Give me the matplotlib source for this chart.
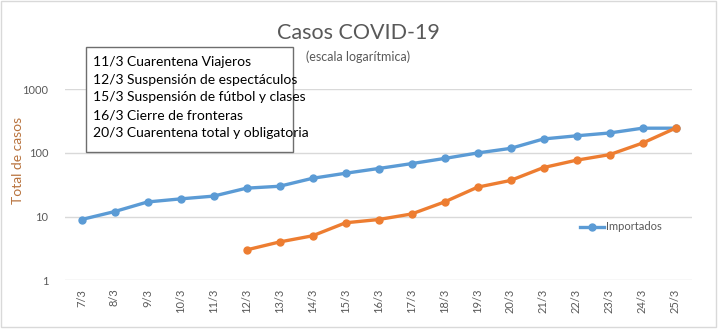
import numpy as np
import matplotlib
matplotlib.use("Agg")
import matplotlib.pyplot as plt
from matplotlib.patches import Rectangle
from matplotlib.lines import Line2D

# data
fechas = ['7/3', '8/3', '9/3', '10/3', '11/3', '12/3', '13/3', '14/3', '15/3', '16/3',
          '17/3', '18/3', '19/3', '20/3', '21/3', '22/3', '23/3', '24/3', '25/3']
importados = [9, 12, 17, 19, 21, 28, 30, 40, 48, 57, 68, 82, 100, 118, 166, 186, 206, 245, 245]
locales = [np.nan, np.nan, np.nan, np.nan, np.nan, 3, 4, 5, 8, 9, 11, 17, 29, 37, 59, 77, 94, 143, 245]
y_ticks = [1, 10, 100, 1000]
eventos = ['11/3 Cuarentena Viajeros',
           '12/3 Suspensión de espectáculos',
           '15/3 Suspensión de fútbol y clases',
           '16/3 Cierre de fronteras',
           '20/3 Cuarentena total y obligatoria']

azul = '#5B9BD5'
naranja = '#ED7D31'
gris = '#595959'
grid_c = '#D9D9D9'

plt.rcParams['font.family'] = ['Lato', 'DejaVu Sans']

fig = plt.figure(figsize=(7.18, 3.29), dpi=100)
W, H = 718, 329
ax = fig.add_axes([65 / W, 1 - 280.3 / H, 627 / W, (280.3 - 89.3) / H])

x = np.arange(len(fechas))
ax.plot(x, importados, color=azul, lw=2.4, marker='o', ms=5, label='Importados')
ax.plot(x, locales, color=naranja, lw=2.4, marker='o', ms=5)

ax.set_yscale('log')
ax.set_ylim(1, 1000)
ax.set_xlim(-0.5, len(fechas) - 0.5)
ax.set_yticks(y_ticks)
ax.set_yticklabels([str(t) for t in y_ticks])
ax.minorticks_off()
ax.set_xticks(x)
ax.set_xticklabels(fechas, rotation=90)
ax.tick_params(axis='both', length=0, labelsize=8, labelcolor=gris)
ax.tick_params(axis='y', pad=12)
ax.tick_params(axis='x', pad=6)
ax.grid(axis='y', color=grid_c, lw=1)
ax.set_axisbelow(True)
for s in ax.spines.values():
    s.set_visible(False)

# legend (only Importados shown)
leg = ax.legend(handles=[Line2D([], [], color=azul, lw=2.4, marker='o', ms=5)],
                labels=['Importados'], frameon=False, fontsize=8,
                loc='center left', bbox_to_anchor=(570 / W, 1 - 227 / H),
                bbox_transform=fig.transFigure, handlelength=2.2, handletextpad=0.1)
for t in leg.get_texts():
    t.set_color(gris)

# titles
fig.text(358 / W, 1 - 33 / H, 'Casos COVID-19', ha='center', va='center',
         fontsize=15.5, color=gris)
fig.text(358 / W, 1 - 57 / H, '(escala logarítmica)', ha='center', va='center',
         fontsize=9, color=gris)
fig.text(18 / W, 1 - 160 / H, 'Total de casos', ha='center', va='center',
         rotation=90, fontsize=10, color='#B8733E')

# events box
fig.patches.append(Rectangle((86 / W, 1 - 152 / H), (293 - 86) / W, (152 - 47) / H,
                             transform=fig.transFigure, facecolor='white',
                             edgecolor='#6E6E6E', lw=1, zorder=5))
for i, ev in enumerate(eventos):
    fig.text(93 / W, 1 - (61.7 + 17.9 * i) / H, ev, ha='left', va='center',
             fontsize=10, color='black', zorder=6)

# outer chart border
fig.patches.append(Rectangle((0.5 / W, 2 / H), 715 / W, 326 / H,
                             transform=fig.transFigure, facecolor='none',
                             edgecolor=grid_c, lw=1))

fig.savefig('out.png', dpi=100)
